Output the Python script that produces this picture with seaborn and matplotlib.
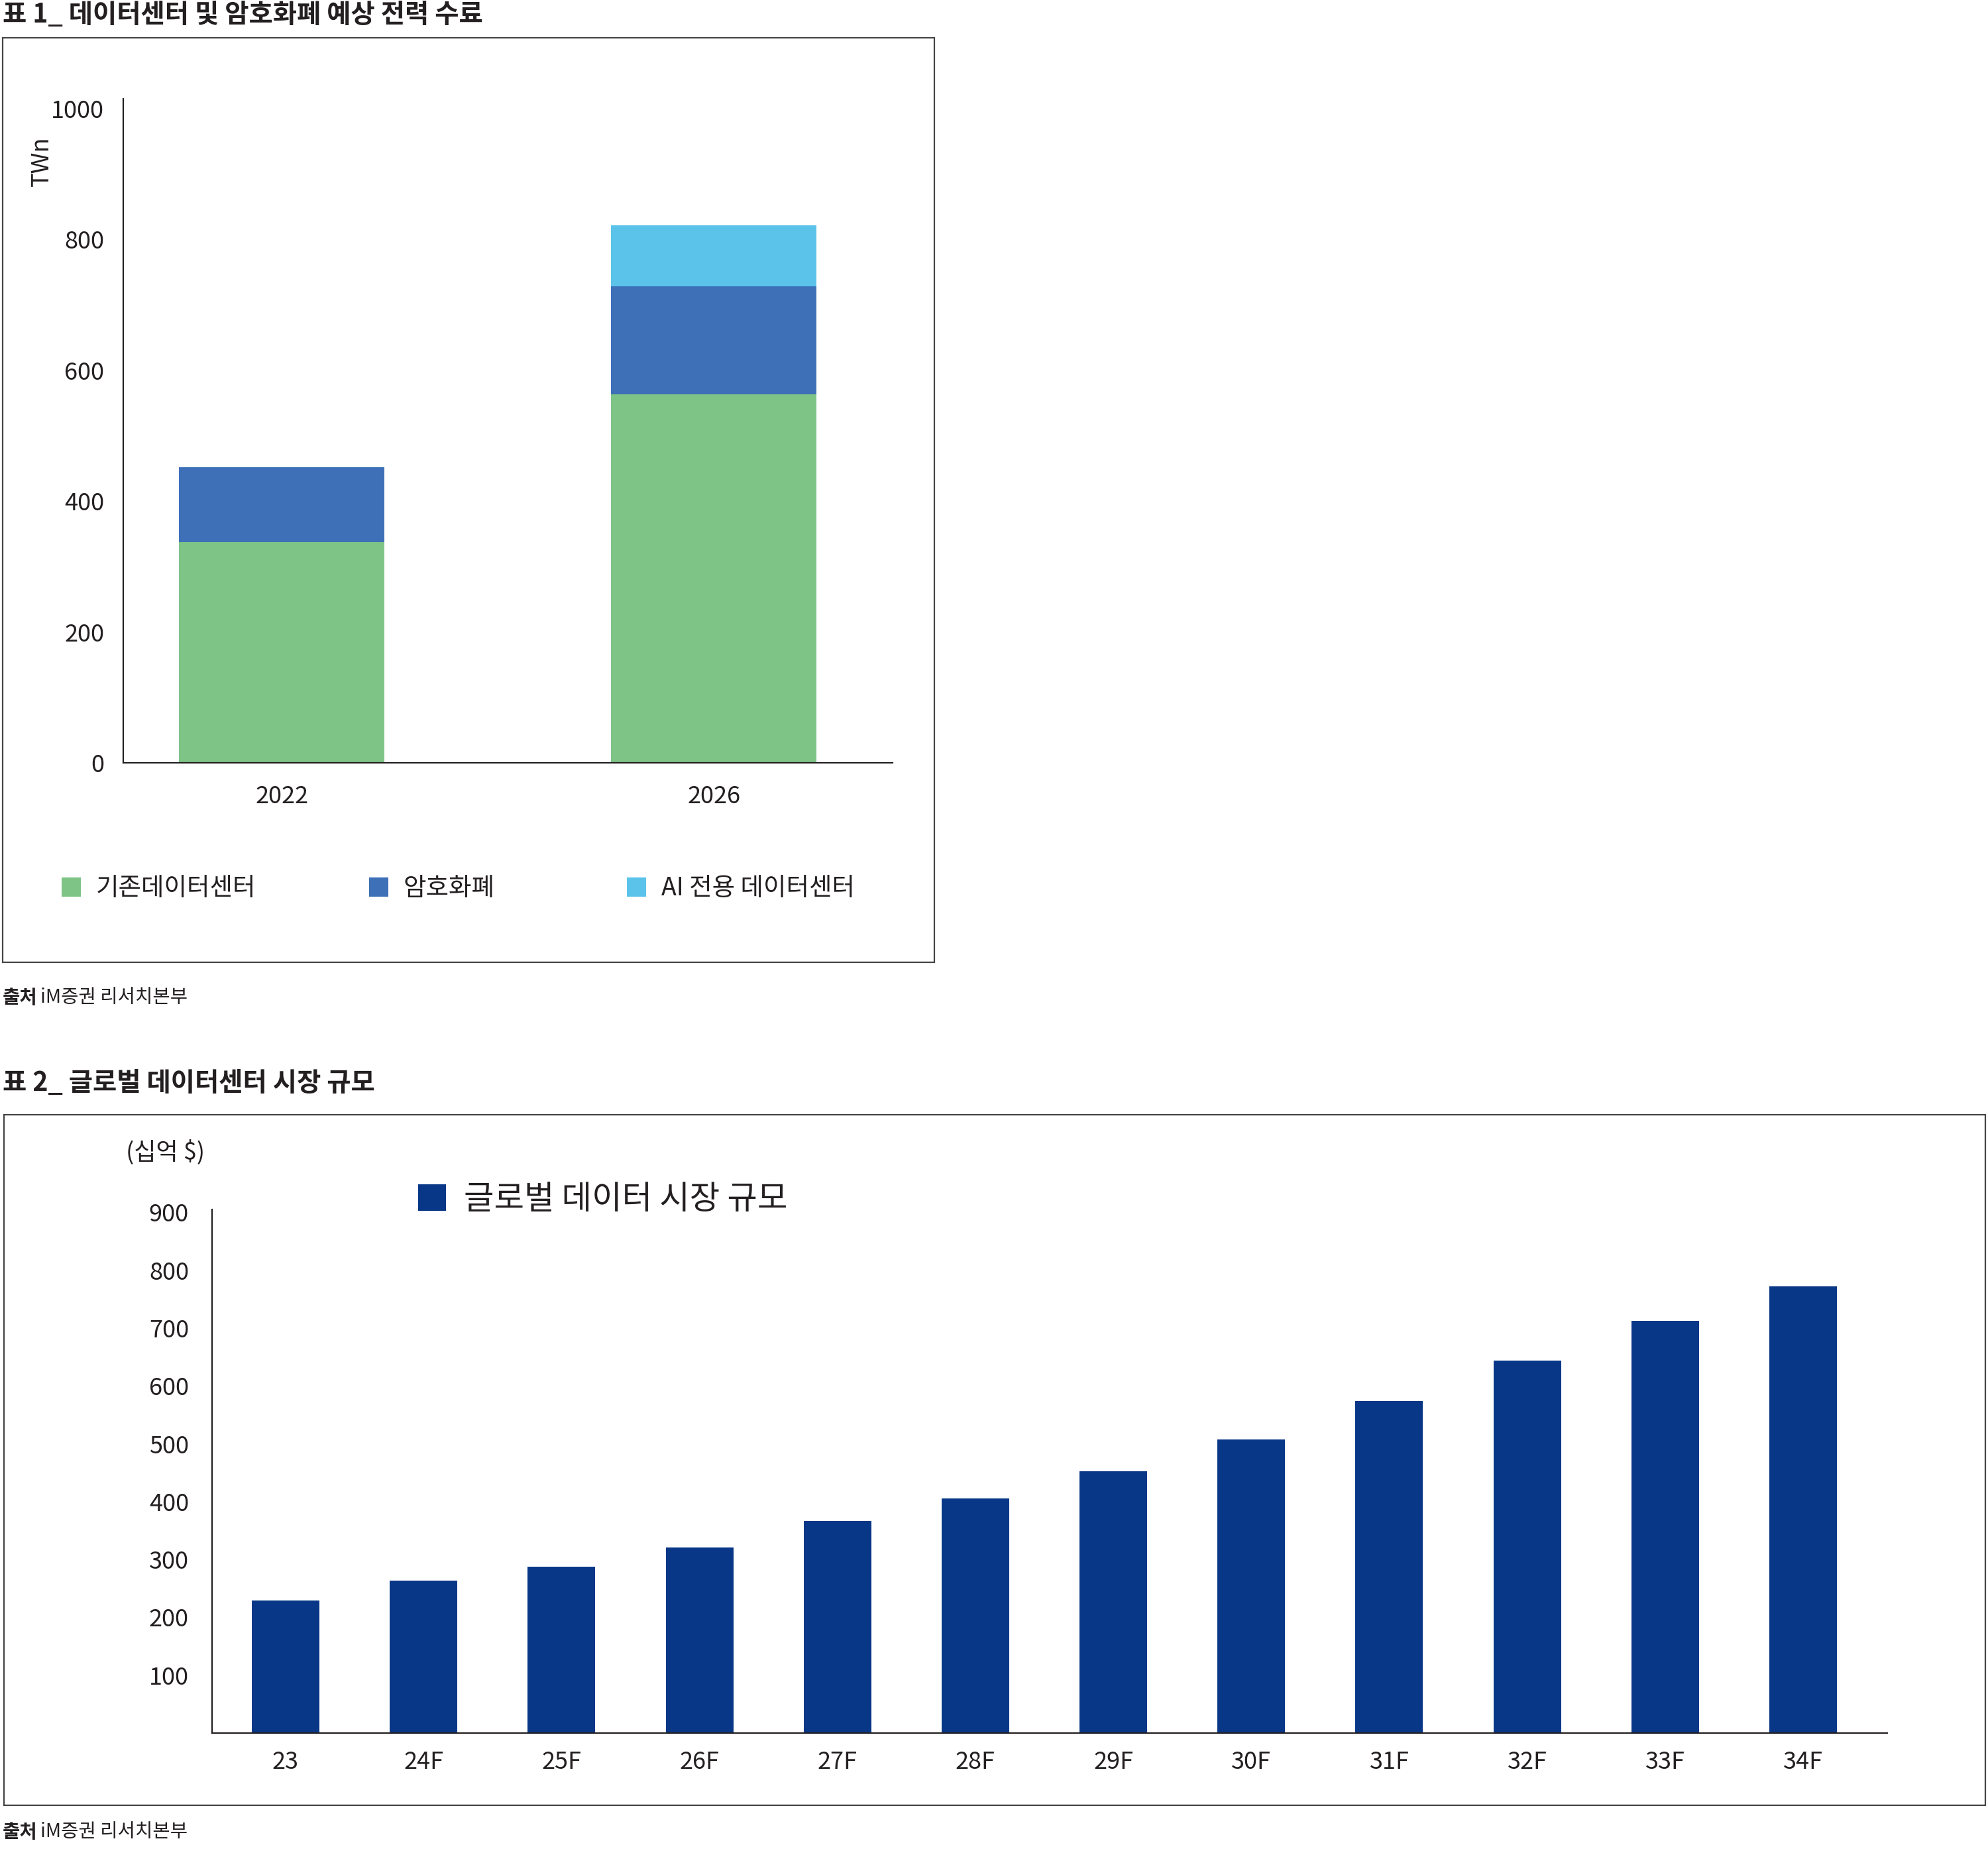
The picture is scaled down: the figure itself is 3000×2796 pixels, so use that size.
import matplotlib
matplotlib.use('Agg')
import matplotlib.pyplot as plt
from matplotlib.patches import Rectangle, Patch
import seaborn as sns
import pandas as pd

# chart 1 data (TWh)
years = ["2022", "2026"]
legacy_dc = [337, 563]
crypto = [115, 165]
ai_dc = [0, 94]
series_names = ["기존데이터센터", "암호화폐", "AI 전용 데이터센터"]

# chart 2 data (십억 $)
market_labels = ["23", "24F", "25F", "26F", "27F", "28F", "29F", "30F", "31F", "32F", "33F", "34F"]
market_size = [229, 263, 287, 321, 367, 405, 452, 507, 574, 644, 712, 772]

GREEN = "#7EC486"
BLUE = "#3E70B8"
LIGHT = "#5BC3EA"
NAVY = "#083787"
DARK = "#231f20"

W, H = 3000, 2796

sns.set_style("white")
plt.rcParams['font.family'] = ['Noto Sans CJK KR', 'DejaVu Sans']


def rect(x0, y0, x1, y1):
    return [x0 / W, 1 - y1 / H, (x1 - x0) / W, (y1 - y0) / H]


def style_axes(ax):
    for s in ["top", "right"]:
        ax.spines[s].set_visible(False)
    for s in ["left", "bottom"]:
        ax.spines[s].set_color(DARK)
        ax.spines[s].set_linewidth(0.8)
    ax.set_xlabel("")
    ax.set_ylabel("")
    ax.tick_params(length=0, colors=DARK)
    ax.grid(False)


fig = plt.figure(figsize=(15, 13.98), dpi=200)

# frames
fig.patches.append(Rectangle((4 / W, 1 - 1452 / H), 1406 / W, 1395 / H, transform=fig.transFigure,
                             fill=False, edgecolor="#444444", linewidth=0.8))
fig.patches.append(Rectangle((6 / W, 1 - 2724 / H), 2990 / W, 1042 / H, transform=fig.transFigure,
                             fill=False, edgecolor="#444444", linewidth=0.8))

# ---------- chart 1 : stacked bars ----------
df1 = pd.DataFrame({"year": years, "legacy": legacy_dc, "crypto": crypto, "ai": ai_dc})
df1["lc"] = df1["legacy"] + df1["crypto"]
df1["total"] = df1["lc"] + df1["ai"]

ax1 = fig.add_axes(rect(186, 149, 1347, 1151))
sns.barplot(data=df1, x="year", y="total", color=LIGHT, width=0.475, saturation=1, ax=ax1, linewidth=0)
sns.barplot(data=df1, x="year", y="lc", color=BLUE, width=0.475, saturation=1, ax=ax1, linewidth=0)
sns.barplot(data=df1, x="year", y="legacy", color=GREEN, width=0.475, saturation=1, ax=ax1, linewidth=0)
style_axes(ax1)
ax1.set_xlim(-0.367, 1.414)
ax1.set_ylim(0, 1015)
ax1.set_yticks(range(0, 1001, 200))
ax1.tick_params(axis="y", pad=10.4, labelsize=13)
ax1.tick_params(axis="x", pad=12, labelsize=13)

fig.text(63 / W, 1 - 243 / H, "TWn", rotation=90, ha="center", va="center", fontsize=13, color=DARK)

# one legend per entry, spaced like the original
legend_x = [93, 557, 946]
for name, c, lx in zip(series_names, (GREEN, BLUE, LIGHT), legend_x):
    fig.legend([Patch(facecolor=c, edgecolor="none")], [name], loc="center left",
               bbox_to_anchor=(lx / W, 1 - 1341 / H), frameon=False, fontsize=13.5,
               handlelength=0.78, handleheight=0.78, handletextpad=0.6,
               borderpad=0, borderaxespad=0, labelcolor=DARK)

fig.text(4 / W, 1 - 23 / H, "표 1_ 데이터센터 및 암호화폐 예상 전력 수료", fontsize=14.2,
         fontweight="bold", ha="left", va="center", color=DARK)
fig.text(4 / W, 1 - 1505 / H, "출처", fontsize=10.3, fontweight="bold", ha="left", va="center", color=DARK)
fig.text(61 / W, 1 - 1505 / H, "iM증권 리서치본부", fontsize=10.3, ha="left", va="center", color=DARK)

# ---------- chart 2 : market size ----------
df2 = pd.DataFrame({"label": market_labels, "size": market_size})
ax2 = fig.add_axes(rect(320, 1825, 2848, 2615))
sns.barplot(data=df2, x="label", y="size", color=NAVY, width=0.49, saturation=1, ax=ax2,
            linewidth=0, label="글로벌 데이터 시장 규모")
style_axes(ax2)
ax2.set_xlim(-0.533, 11.61)
ax2.set_ylim(0, 905)
ax2.set_yticks(range(100, 901, 100))
ax2.tick_params(axis="y", pad=12.6, labelsize=13)
ax2.tick_params(axis="x", pad=9.4, labelsize=13)
ax2.legend(loc="center left", bbox_to_anchor=(631 / W, 1 - 1810 / H), bbox_transform=fig.transFigure,
           frameon=False, fontsize=17.8, handlelength=0.85, handleheight=0.85, handletextpad=0.55,
           borderpad=0, borderaxespad=0, labelcolor=DARK)

fig.text(250 / W, 1 - 1739 / H, "(십억 $)", fontsize=13, ha="center", va="center", color=DARK)
fig.text(4 / W, 1 - 1634 / H, "표 2_ 글로벌 데이터센터 시장 규모", fontsize=14.2,
         fontweight="bold", ha="left", va="center", color=DARK)
fig.text(4 / W, 1 - 2764 / H, "출처", fontsize=10.3, fontweight="bold", ha="left", va="center", color=DARK)
fig.text(61 / W, 1 - 2764 / H, "iM증권 리서치본부", fontsize=10.3, ha="left", va="center", color=DARK)

fig.savefig("out.png", dpi=200)
plt.close(fig)
